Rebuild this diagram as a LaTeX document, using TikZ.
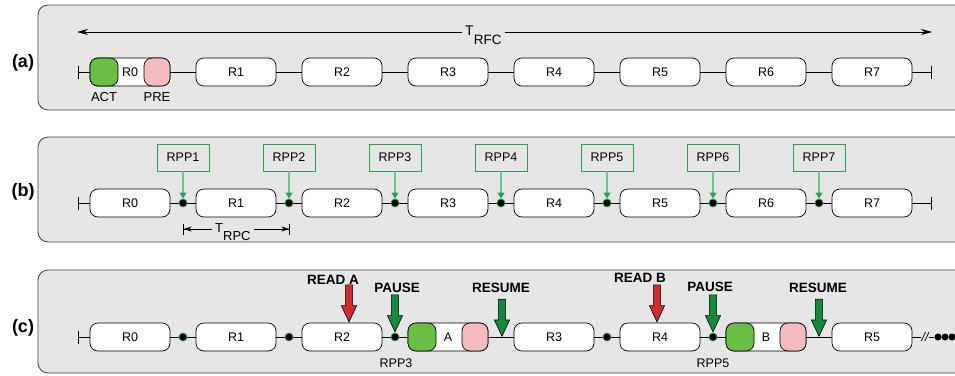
\documentclass[tikz,border=0pt]{standalone}
\usepackage{fontspec}
\setmainfont{Liberation Sans}
\usetikzlibrary{arrows.meta, positioning, shapes.arrows}

\definecolor{panelgray}{HTML}{E6E6E6}
\definecolor{actgreen}{HTML}{6ABD45}
\definecolor{prepink}{HTML}{F5BCBF}
\definecolor{rppgreen}{HTML}{2E9E5B}
\definecolor{rpplight}{HTML}{6CC48E}
\definecolor{cmdgreen}{HTML}{138A3E}
\definecolor{readred}{HTML}{D42A2E}

\begin{document}
\begin{tikzpicture}[
    x=1pt, y=-1pt,
    >={Stealth[length=11pt, width=6pt]},
    every node/.style={font=\fontsize{12.5}{14}\selectfont},
    panel/.style={draw=black!75, fill=panelgray, rounded corners=10pt, line width=0.8pt},
    slot/.style={draw, fill=white, rounded corners=8pt, minimum width=80pt, minimum height=28pt, inner sep=0pt, line width=0.7pt},
    actbox/.style={draw, fill=actgreen, rounded corners=8pt, minimum width=28pt, minimum height=28pt, inner sep=0pt, line width=0.7pt},
    prebox/.style={actbox, fill=prepink, minimum width=26pt},
    ppdot/.style={circle, fill=black, draw=rppgreen, line width=0.8pt, inner sep=0pt, minimum size=8pt},
    trail/.style={circle, fill=black, inner sep=0pt, minimum size=7pt},
    rppbox/.style={draw=rppgreen, line width=0.8pt, minimum width=52pt, minimum height=27pt, inner sep=0pt},
    rpparrow/.style={draw=rpplight, line width=1.2pt, -{Triangle[length=6pt, width=7pt, color=rppgreen]}},
    seg/.style={line width=0.7pt},
    endbar/.style={-{Bar[width=13pt]}},
    startbar/.style={{Bar[width=13pt]}-},
    dimarrow/.style={seg, -{Stealth[length=8pt, width=5pt]Bar[width=11pt]}},
    cmd/.style={font=\fontsize{13.5}{15}\bfseries\selectfont},
    blockarrow/.style={single arrow, draw=black, line width=0.6pt, shape border rotate=270,
      minimum height=37pt, inner sep=3.3pt, single arrow head extend=4pt,
      single arrow tip angle=50, anchor=tip},
    readarrow/.style={blockarrow, fill=readred},
    goarrow/.style={blockarrow, fill=cmdgreen},
    tag/.style={font=\fontsize{18}{20}\bfseries\selectfont}
  ]
  \useasboundingbox (0,0) rectangle (955,375);

  % Panels
  \draw[panel] (38,5) rectangle (975,110);
  \draw[panel] (38,137) rectangle (975,242);
  \draw[panel] (38,270) rectangle (975,373);
  \node[tag] (taga) at (23,63) {(a)};
  \node[tag] (tagb) at (23,192) {(b)};
  \node[tag] (tagc) at (23,328) {(c)};

  % (a) refresh window
  \node[slot] (a0) at (130,72) {R0};
  \node[actbox, anchor=west] (act) at (a0.west) {};
  \node[prebox, anchor=east] (pre) at (a0.east) {};
  \foreach \i in {1,...,7}
    \node[slot] (a\i) at ({130+106*\i},72) {R\i};
  \node[below=3pt of act, font=\fontsize{13}{15}\selectfont] (actlbl) {ACT};
  \node[below=3pt of pre, font=\fontsize{13}{15}\selectfont] (prelbl) {PRE};

  \coordinate (aL) at (78,72);
  \coordinate (aR) at (932,72);
  \draw[seg, startbar] (aL) -- (a0);
  \foreach \i [count=\j] in {0,...,6}
    \draw[seg] (a\i) -- (a\j);
  \draw[seg, endbar] (a7) -- (aR);

  \node[anchor=base west, inner sep=3pt, font=\fontsize{14}{16}\selectfont] (trfc) at (462,35)
    {T\raisebox{-9pt}{\fontsize{13.5}{15}\selectfont RFC}};
  \coordinate (rfcL) at (77,32);
  \coordinate (rfcR) at (932,32);
  \draw[seg, ->] (trfc.west |- rfcL) -- (rfcL);
  \draw[seg, ->] (trfc.east |- rfcR) -- (rfcR);

  % (b) refresh pause points
  \foreach \i in {0,...,7}
    \node[slot] (b\i) at ({130+106*\i},203) {R\i};
  \coordinate (bL) at (78,203);
  \coordinate (bR) at (932,203);
  \draw[seg, startbar] (bL) -- (b0);
  \foreach \i [count=\j] in {0,...,6}
    \draw[seg] (b\i) -- (b\j);
  \draw[seg, endbar] (b7) -- (bR);
  \foreach \i in {1,...,7} {
    \node[ppdot] (bp\i) at ({77+106*\i},203) {};
    \node[rppbox] (rpp\i) at ({77+106*\i},157.5) {RPP\i};
    \draw[rpparrow] (rpp\i) -- (bp\i);
  }

  \node[anchor=base west, inner sep=3pt, font=\fontsize{13}{15}\selectfont] (trpc) at (212,232)
    {T\raisebox{-8pt}{RPC}};
  \coordinate (rpcL) at (183,229);
  \coordinate (rpcR) at (290,229);
  \draw[dimarrow] (trpc.west |- rpcL) -- (rpcL);
  \draw[dimarrow] (trpc.east |- rpcR) -- (rpcR);

  % (c) pausing a refresh for reads
  \node[slot] (c0) at (130,337) {R0};
  \node[slot] (c1) at (236,337) {R1};
  \node[slot] (c2) at (342,337) {R2};
  \node[slot] (cA) at (448,337) {A};
  \node[actbox, anchor=west] (actA) at (cA.west) {};
  \node[prebox, anchor=east] (preA) at (cA.east) {};
  \node[slot] (c3) at (554,337) {R3};
  \node[slot] (c4) at (660,337) {R4};
  \node[slot] (cB) at (766,337) {B};
  \node[actbox, anchor=west] (actB) at (cB.west) {};
  \node[prebox, anchor=east] (preB) at (cB.east) {};
  \node[slot] (c5) at (872,337) {R5};

  \coordinate (cL) at (78,337);
  \draw[seg, startbar] (cL) -- (c0);
  \foreach \p/\q in {c0/c1, c1/c2, c2/cA, cA/c3, c3/c4, c4/cB, cB/c5}
    \draw[seg] (\p) -- (\q);
  \node[inner sep=0pt, font=\fontsize{12.5}{14}\itshape\selectfont] (brk) at (925,337) {//};
  \node[trail] (t1) at (938,337) {};
  \node[trail] (t2) at (945,337) {};
  \node[trail] (t3) at (952,337) {};
  \draw[seg] (c5) -- (brk);
  \draw[seg] (brk) -- (t1);

  \foreach \x [count=\k] in {183,289,395,607,713}
    \node[ppdot] (cp\k) at (\x,337) {};
  \coordinate (cr1) at (502,337);
  \coordinate (cr2) at (819,337);

  \node[cmd] (readA) at (333,280) {READ A};
  \node[readarrow] (readAarr) at ([xshift=7pt]c2.north) {};
  \node[cmd] (pauseA) at (397,288) {PAUSE};
  \node[goarrow] (pauseAarr) at (cp3.north) {};
  \node[cmd] (resumeA) at (501,288) {RESUME};
  \node[goarrow] (resumeAarr) at (cr1) {};

  \node[cmd] (readB) at (640,278) {READ B};
  \node[readarrow] (readBarr) at ([xshift=-3pt]c4.north) {};
  \node[cmd] (pauseB) at (710,287) {PAUSE};
  \node[goarrow] (pauseBarr) at (cp5.north) {};
  \node[cmd] (resumeB) at (818,288) {RESUME};
  \node[goarrow] (resumeBarr) at (cr2) {};

  \node (rpp3lbl) at (396,363) {RPP3};
  \node (rpp5lbl) at (713,363) {RPP5};
\end{tikzpicture}
\end{document}
